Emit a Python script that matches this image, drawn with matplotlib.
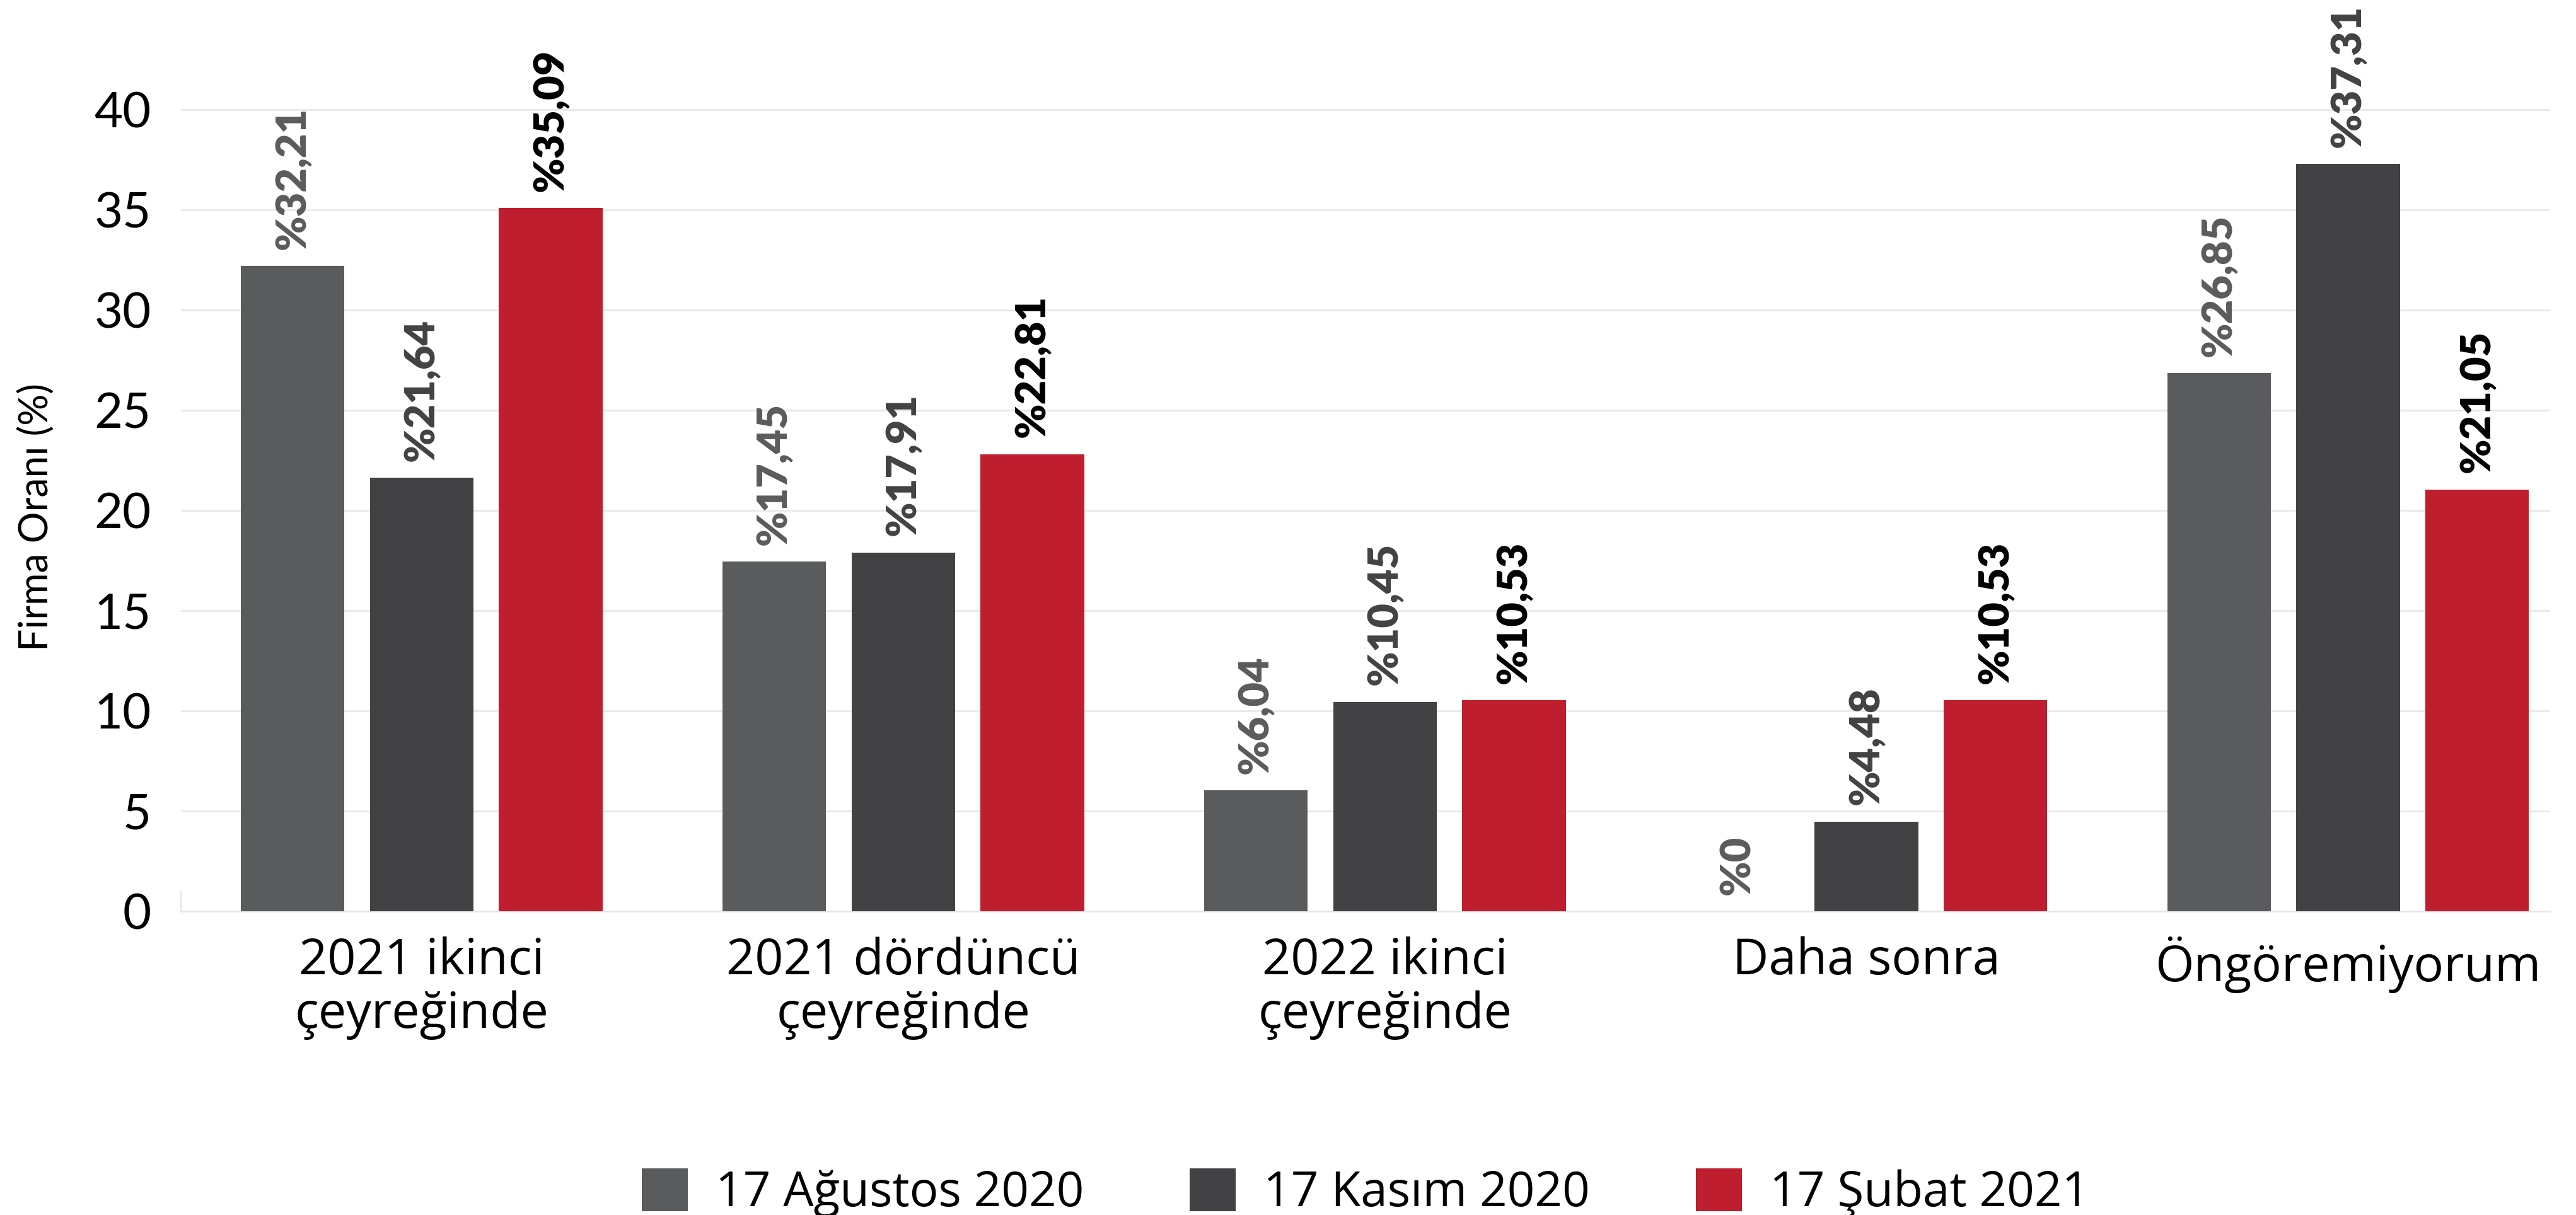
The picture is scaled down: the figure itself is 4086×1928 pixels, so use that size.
import matplotlib
matplotlib.use('Agg')
import matplotlib.pyplot as plt
import numpy as np

categories = ['2021 ikinci\nçeyreğinde', '2021 dördüncü\nçeyreğinde',
              '2022 ikinci\nçeyreğinde', 'Daha sonra', 'Öngöremiyorum']
series_names = ['17 Ağustos 2020', '17 Kasım 2020', '17 Şubat 2021']
aug_2020 = [32.21, 17.45, 6.04, 0, 26.85]
nov_2020 = [21.64, 17.91, 10.45, 4.48, 37.31]
feb_2021 = [35.09, 22.81, 10.53, 10.53, 21.05]
y_ticks = [0, 5, 10, 15, 20, 25, 30, 35, 40]

BAR_COLORS = ['#5a5b5d', '#424244', '#be1e2d']
LABEL_COLORS = ['#5a5b5d', '#424244', '#000000']
GRID = '#e6e6e6'

plt.rcParams['font.family'] = ['Lato', 'DejaVu Sans']

fig = plt.figure(figsize=(40.87, 19.28), dpi=100)
ax = fig.add_axes([0.0702, 0.25, 0.9196, 0.742])

x = np.arange(len(categories))
step, width = 0.268, 0.215
series = [aug_2020, nov_2020, feb_2021]
for i, vals in enumerate(series):
    pos = x + (i - 1) * step
    ax.bar(pos, vals, width=width, color=BAR_COLORS[i], label=series_names[i], zorder=3)
    for px, v in zip(pos, vals):
        txt = '%' + f'{v:.2f}'.replace('.', ',') if v else '%0'
        ax.annotate(txt, (px, v), xytext=(0, 19), textcoords='offset points',
                    rotation=90, ha='center', va='bottom', fontsize=48,
                    fontweight='heavy', color=LABEL_COLORS[i])

ax.set_xlim(-0.5, 4.42)
ax.set_ylim(0, 45)
ax.set_yticks(y_ticks)
ax.set_xticks(x)
ax.set_xticklabels(categories, fontsize=57, linespacing=1.1,
                   family=['Open Sans', 'DejaVu Sans'])
ax.tick_params(axis='y', length=0, pad=34, labelsize=56)
ax.tick_params(axis='x', length=0, pad=29)
ax.grid(True, axis='y', color=GRID, linewidth=1.8, zorder=0)
for s in ['top', 'right']:
    ax.spines[s].set_visible(False)
ax.spines['bottom'].set_color(GRID)
ax.spines['bottom'].set_linewidth(1.8)
ax.spines['left'].set_color(GRID)
ax.spines['left'].set_linewidth(1.8)
ax.spines['left'].set_bounds(0, 1)

ax.set_ylabel('Firma Oranı (%)', fontsize=45)
ax.yaxis.set_label_coords(-0.053, 0.437)

fig.legend(loc='lower center', bbox_to_anchor=(0.53, -0.002), ncol=3, frameon=False,
           prop={'family': ['Open Sans', 'DejaVu Sans'], 'size': 55},
           handlelength=0.95, handleheight=1.0, handletextpad=0.58,
           columnspacing=2.2, borderpad=0, borderaxespad=0)

fig.savefig('out.png', dpi=100)
